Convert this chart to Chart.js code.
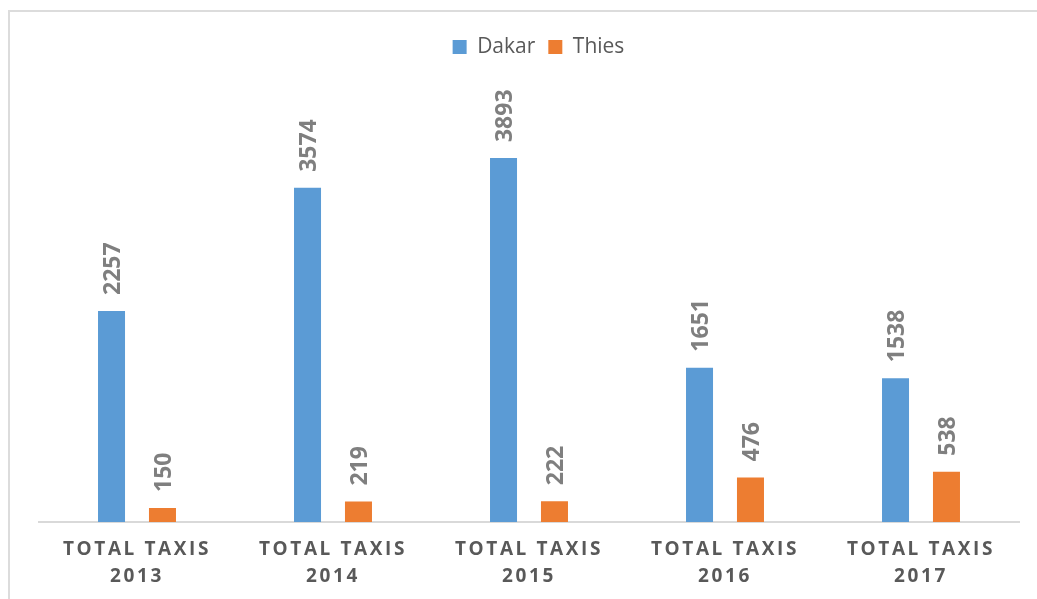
<!DOCTYPE html>
<html>
<head>
<meta charset="utf-8">
<title>Total taxis, Dakar and Thies</title>
<script src="https://cdn.jsdelivr.net/npm/chart.js@4.4.1/dist/chart.umd.min.js"></script>
<style>
  html, body { margin: 0; padding: 0; background: #ffffff; }
  #wrap { position: relative; width: 1037px; height: 599px; overflow: hidden; }
  #frame { position: absolute; left: 8px; top: 10px; width: 1040px; height: 600px;
           border-left: 2px solid #dcdcdc; border-top: 2px solid #dcdcdc; }
  #c { position: absolute; left: 0; top: 0; }
</style>
</head>
<body>
<div id="wrap">
  <div id="frame"></div>
  <canvas id="c" width="1037" height="599"></canvas>
</div>
<script>
// Years covered by the counts
const years = ['2013', '2014', '2015', '2016', '2017'];
// Each category label is drawn on two lines
const categories = years.map(y => ['TOTAL TAXIS', y]);

// Number of taxis per year
const dakar = [2257, 3574, 3893, 1651, 1538];
const thies = [150, 219, 222, 476, 538];

const seriesNames = ['Dakar', 'Thies'];
const seriesColors = ['#5B9BD5', '#ED7D31'];

const FONT = '"Open Sans", "DejaVu Sans", sans-serif';

// Vertical value labels above every bar
const barValueLabels = {
  id: 'barValueLabels',
  afterDatasetsDraw(chart) {
    const ctx = chart.ctx;
    const size = 23;
    ctx.save();
    ctx.font = 'bold ' + size + 'px ' + FONT;
    ctx.fillStyle = '#7f7f7f';
    ctx.textAlign = 'left';
    ctx.textBaseline = 'alphabetic';
    chart.data.datasets.forEach((ds, di) => {
      chart.getDatasetMeta(di).data.forEach((bar, i) => {
        ctx.save();
        ctx.translate(bar.x, bar.y - 16);
        ctx.rotate(-Math.PI / 2);
        ctx.fillText(String(ds.data[i]), 0, size * 0.36);
        ctx.restore();
      });
    });
    ctx.restore();
  }
};

// Letter-spaced category labels, legend placement and room under the legend
const axisStyling = {
  id: 'axisStyling',
  beforeLayout(chart) {
    const legend = chart.legend;
    if (legend && !legend._extraRoom) {
      const fit = legend.fit;
      legend.fit = function () {
        fit.call(this);
        this.height += 33.8;
      };
      legend._extraRoom = true;
    }
  },
  afterLayout(chart) {
    const legend = chart.legend;
    if (legend) {
      legend.left += 9.5;
      legend.right += 9.5;
    }
    const sx = chart.scales.x;
    if (sx && !sx._spaced) {
      const drawLabels = sx.drawLabels;
      sx.drawLabels = function (area) {
        const c = this.ctx;
        const prev = c.letterSpacing;
        c.letterSpacing = '2.6px';
        drawLabels.call(this, area);
        c.letterSpacing = prev || '0px';
      };
      sx._spaced = true;
    }
  }
};

new Chart(document.getElementById('c'), {
  type: 'bar',
  data: {
    labels: categories,
    datasets: [
      { label: seriesNames[0], data: dakar, backgroundColor: seriesColors[0] },
      { label: seriesNames[1], data: thies, backgroundColor: seriesColors[1] }
    ]
  },
  options: {
    responsive: false,
    maintainAspectRatio: false,
    animation: false,
    events: [],
    datasets: {
      bar: { categoryPercentage: 0.52, barPercentage: 0.53, borderWidth: 0 }
    },
    layout: { padding: { left: 39, right: 18, top: 23.5, bottom: 0 } },
    plugins: {
      tooltip: { enabled: false },
      title: { display: false },
      legend: {
        position: 'top',
        align: 'center',
        labels: {
          boxWidth: 14,
          boxHeight: 14,
          padding: 13,
          color: '#595959',
          font: { family: FONT, size: 21 }
        }
      }
    },
    scales: {
      x: {
        grid: { display: false, drawTicks: false },
        border: { display: true, color: '#d9d9d9', width: 2 },
        ticks: {
          color: '#595959',
          padding: 14,
          autoSkip: false,
          maxRotation: 0,
          minRotation: 0,
          font: { family: FONT, size: 19, weight: 'bold', lineHeight: '27px' }
        },
        afterFit(scale) { scale.height = 77; }
      },
      y: {
        display: false,
        min: 0,
        max: 4500
      }
    }
  },
  plugins: [barValueLabels, axisStyling]
});
</script>
</body>
</html>
